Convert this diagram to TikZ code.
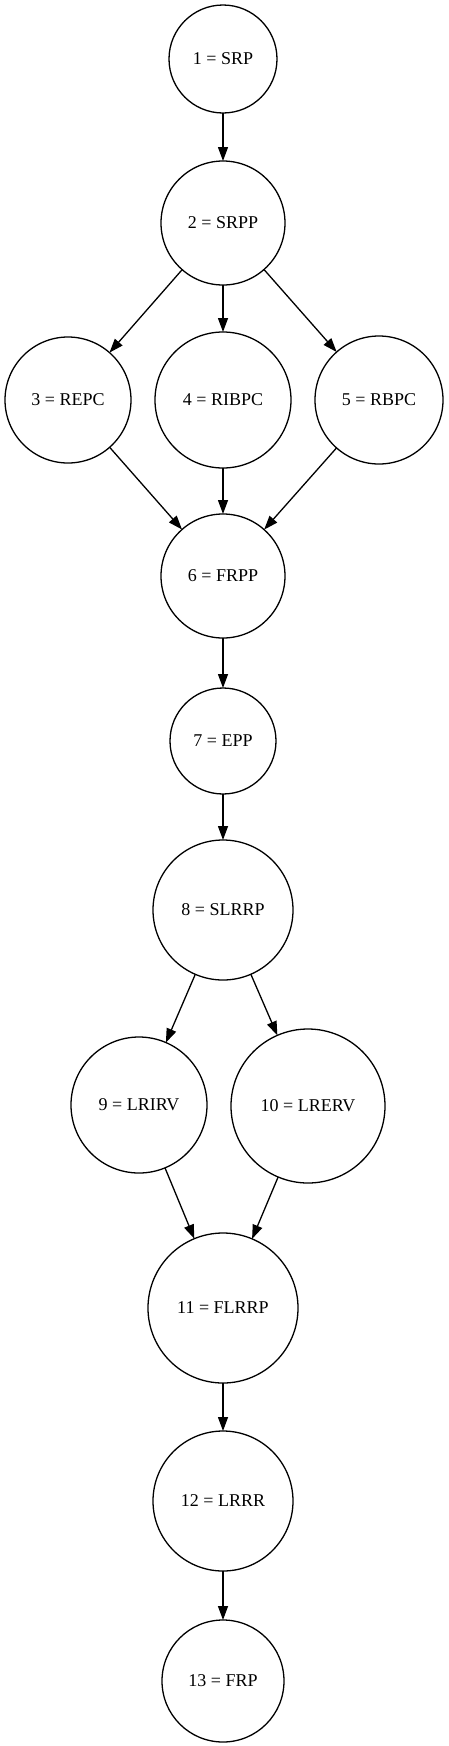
\documentclass[tikz,border=0pt]{standalone}
\usepackage{fontspec}
\setmainfont{Liberation Serif}
\usetikzlibrary{arrows.meta}
\begin{document}
\begin{tikzpicture}[x=1pt,y=-1pt,
  stnode/.style={circle,draw,line width=1.3pt,inner sep=0pt,outer sep=0pt,
    font=\fontsize{18}{22}\selectfont},
  conn/.style={line width=1.3pt,-{Triangle[length=14pt,width=10pt]}}]
\useasboundingbox (0,0) rectangle (449,1746);
\node[stnode,minimum size=108pt] (n1) at (223,59) {1 = SRP};
\node[stnode,minimum size=124pt] (n2) at (223,223) {2 = SRPP};
\node[stnode,minimum size=126pt] (n3) at (68,400) {3 = REPC};
\node[stnode,minimum size=136pt] (n4) at (223,400) {4 = RIBPC};
\node[stnode,minimum size=128pt] (n5) at (379,400) {5 = RBPC};
\node[stnode,minimum size=124pt] (n6) at (223,576) {6 = FRPP};
\node[stnode,minimum size=106pt] (n7) at (223,741) {7 = EPP};
\node[stnode,minimum size=140pt] (n8) at (223,910) {8 = SLRRP};
\node[stnode,minimum size=136pt] (n9) at (139,1105) {9 = LRIRV};
\node[stnode,minimum size=154pt] (n10) at (308,1106) {10 = LRERV};
\node[stnode,minimum size=150pt] (n11) at (223,1308) {11 = FLRRP};
\node[stnode,minimum size=140pt] (n12) at (223,1501) {12 = LRRR};
\node[stnode,minimum size=122pt] (n13) at (223,1681) {13 = FRP};
\draw[conn] (n1) -- (n2);
\draw[conn] (n2) -- (n3);
\draw[conn] (n2) -- (n4);
\draw[conn] (n2) -- (n5);
\draw[conn] (n3) -- (n6);
\draw[conn] (n4) -- (n6);
\draw[conn] (n5) -- (n6);
\draw[conn] (n6) -- (n7);
\draw[conn] (n7) -- (n8);
\draw[conn] (n8) -- (n9);
\draw[conn] (n8) -- (n10);
\draw[conn] (n9) -- (n11);
\draw[conn] (n10) -- (n11);
\draw[conn] (n11) -- (n12);
\draw[conn] (n12) -- (n13);
\end{tikzpicture}
\end{document}
